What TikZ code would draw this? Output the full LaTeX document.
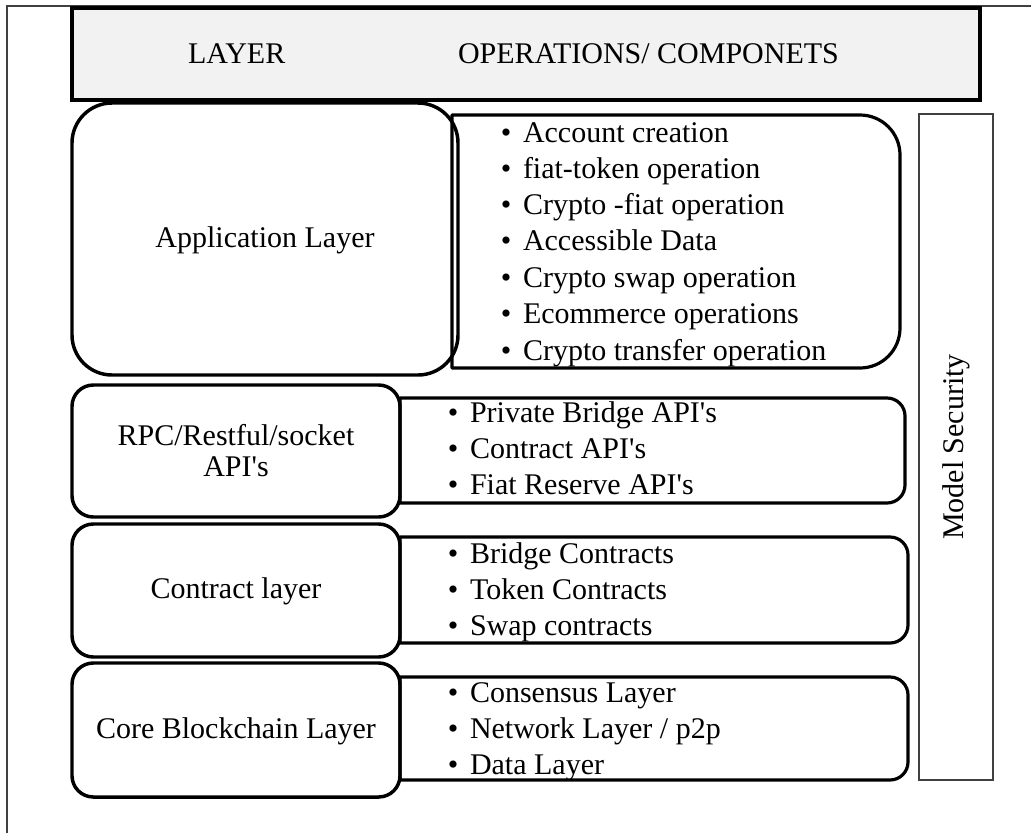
\documentclass[tikz,border=0pt]{standalone}
\usepackage{fontspec}
\setmainfont{Liberation Serif}[Ligatures=TeXOff]
\definecolor{hdrfill}{HTML}{F2F2F2}
\definecolor{framegray}{HTML}{404040}
\begin{document}
\begin{tikzpicture}[x=0.75pt,y=-0.75pt,
  every node/.style={inner sep=0pt, outer sep=0pt, font=\fontsize{22.5}{27}\selectfont, text=black},
  layerbox/.style={draw=black, line width=2.6pt},
  itembox/.style={draw=black, line width=2.4pt, line join=round},
  thinbox/.style={draw=framegray, line width=1.1pt},
  itemtext/.style={anchor=base west},
  bul/.style={anchor=base}]
\useasboundingbox (0,0) rectangle (1031,833);
\fill[white] (0,0) rectangle (1031,833);
\newcommand\rbox[5]{\draw[itembox] (#1,#2) -- ({#3-#5},#2) arc[start angle=-90,end angle=0,radius=#5] -- (#3,{#4-#5}) arc[start angle=0,end angle=90,radius=#5] -- (#1,#4) -- cycle;}
\newcommand\itm[4]{\node[bul] (#1b) at (#2,#3) {•};\node[itemtext] (#1) at ({#2+17},#3) {#4};}
% outer frame (top and left only)
\draw[thinbox] (7,833) -- (7,6) -- (1031,6);
% header
\draw[draw=black, fill=hdrfill, line width=3.4pt] (72,8) rectangle (980,100);
\node[anchor=base west] (hlayer) at (188,63) {LAYER};
\node[anchor=base west] (hops) at (458,63) {OPERATIONS/ COMPONETS};
% application layer
\draw[layerbox, rounded corners=30pt] (72,103) rectangle (458,375);
\node[anchor=base] (app) at (265,247) {Application Layer};
\rbox{452}{115}{900}{368}{40}
\itm{a1}{506}{142}{Account creation}
\itm{a2}{506}{178}{fiat-token operation}
\itm{a3}{506}{214}{Crypto -fiat operation}
\itm{a4}{506}{250}{Accessible Data}
\itm{a5}{506}{287}{Crypto swap operation}
\itm{a6}{506}{323}{Ecommerce operations}
\itm{a7}{506}{360}{Crypto transfer operation}
% rpc layer
\rbox{400}{398}{905}{503}{18}
\draw[layerbox, rounded corners=16pt] (72,385) rectangle (400,517);
\node[anchor=base] (rpc1) at (236,445) {RPC/Restful/socket};
\node[anchor=base] (rpc2) at (236,476) {API's};
\itm{r1}{453}{422}{Private Bridge API's}
\itm{r2}{453}{458}{Contract API's}
\itm{r3}{453}{494}{Fiat Reserve API's}
% contract layer
\rbox{400}{537}{908}{643}{18}
\draw[layerbox, rounded corners=16pt] (72,524) rectangle (400,657);
\node[anchor=base] (con) at (236,598) {Contract layer};
\itm{c1}{453}{563}{Bridge Contracts}
\itm{c2}{453}{599}{Token Contracts}
\itm{c3}{453}{635}{Swap contracts}
% core layer
\rbox{400}{677}{908}{780}{18}
\draw[layerbox, rounded corners=16pt] (72,663) rectangle (400,797);
\node[anchor=base] (core) at (236,738) {Core Blockchain Layer};
\itm{k1}{453}{702}{Consensus Layer}
\itm{k2}{453}{738}{Network Layer / p2p}
\itm{k3}{453}{774}{Data Layer}
% model security
\draw[thinbox] (919,114) rectangle (993,780);
\node[rotate=90] (sec) at (956,447) {Model Security};
\end{tikzpicture}
\end{document}
